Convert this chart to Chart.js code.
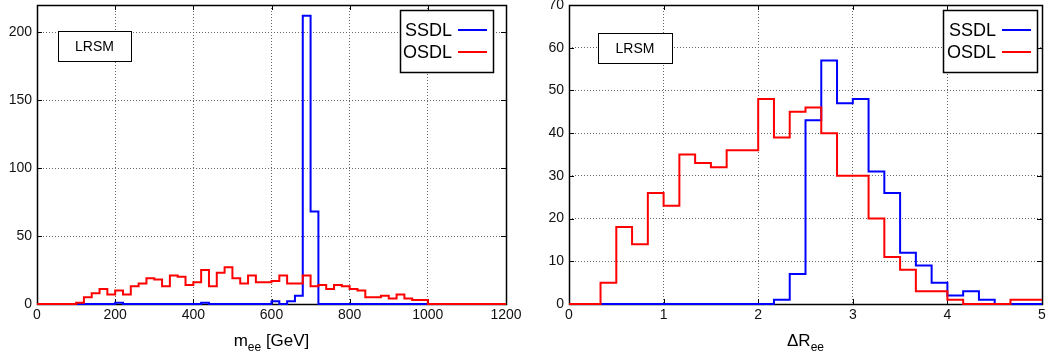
<!DOCTYPE html>
<html>
<head>
<meta charset="utf-8">
<script src="https://cdn.jsdelivr.net/npm/chart.js@4.4.0/dist/chart.umd.min.js"></script>
<style>
  body { margin: 0; background: #fff; }
  #wrap { width: 1054px; height: 360px; position: relative; }
  .box { position: absolute; top: 0; height: 360px; }
</style>
</head>
<body>
<div id="wrap">
  <div class="box" style="left:0;width:530px"><canvas id="massChart"></canvas></div>
  <div class="box" style="left:530px;width:524px"><canvas id="drChart"></canvas></div>
</div>
<script>
// series names
const seriesNames = ['SSDL', 'OSDL'];
const modelLabel = 'LRSM';

// m_ee histogram, 20 GeV bins from 0 to 1200
const massBinWidth = 20;
const ssdlMass = [0,0,0,0,0, 0,0,0,0,0, 1,0,0,0,0, 0,0,0,0,0, 0,1,0,0,0, 0,0,0,0,0,
                  2,0,2,6,212, 68,0,0,0,0, 0,0,0,0,0, 0,0,0,0,0, 0,0,0,0,0, 0,0,0,0,0];
const osdlMass = [0,0,0,0,0, 1,5,8,11,7, 10,7,13,15,19, 18,13,21,20,14, 16,25,13,23,27, 19,15,21,16,16,
                  17,21,15,15,21, 13,14,11,14,13, 11,10,5,5,6, 4,7,4,3,3, 0,0,0,0,0, 0,0,0,0,0];

// Delta R_ee histogram, bins of 1/6 from 0 to 5
const drBinWidth = 1 / 6;
const ssdlDR = [0,0,0,0,0,0, 0,0,0,0,0,0, 0,1,7,43,57,47, 48,31,26,12,9,5, 2,3,1,0,0,0];
const osdlDR = [0,0,5,18,14,26, 23,35,33,32,36,36, 48,39,45,46,40,30, 30,20,11,8,3,3, 1,0,0,0,1,1];

const colors = ['#0000ff', '#ff0000'];
const font = 'Liberation Sans, Arial, Helvetica, sans-serif';

// histogram edges -> stepped points (value held from left edge to next edge)
function steps(values, width) {
  const pts = values.map((v, i) => ({ x: i * width, y: v }));
  pts.push({ x: values.length * width, y: values[values.length - 1] });
  return pts;
}

const gnuplotLook = {
  id: 'gnuplotLook',
  beforeDatasetsDraw(chart) {
    const a = chart.chartArea, ctx = chart.ctx;
    const xs = chart.scales.x, ys = chart.scales.y;
    ctx.save();
    ctx.strokeStyle = '#000';
    ctx.lineWidth = 1;
    ctx.beginPath();
    xs.ticks.forEach(t => {
      const px = Math.round(xs.getPixelForValue(t.value)) + 0.5;
      ctx.moveTo(px, a.bottom); ctx.lineTo(px, a.bottom - 5);
      ctx.moveTo(px, a.top); ctx.lineTo(px, a.top + 5);
    });
    ys.ticks.forEach(t => {
      const py = Math.round(ys.getPixelForValue(t.value)) + 0.5;
      ctx.moveTo(a.left, py); ctx.lineTo(a.left + 5, py);
      ctx.moveTo(a.right, py); ctx.lineTo(a.right - 5, py);
    });
    ctx.stroke();
    ctx.lineWidth = 1.5;
    ctx.strokeRect(Math.round(a.left) + 0.5, Math.round(a.top) + 0.5,
                   Math.round(a.right - a.left), Math.round(a.bottom - a.top));
    ctx.restore();
  },
  afterDatasetsDraw(chart, args, o) {
    const ctx = chart.ctx;
    ctx.save();
    // model label box
    const m = o.modelBox;
    ctx.fillStyle = '#fff';
    ctx.fillRect(m[0], m[1], m[2] - m[0], m[3] - m[1]);
    ctx.strokeStyle = '#000';
    ctx.lineWidth = 1;
    ctx.strokeRect(m[0] + 0.5, m[1] + 0.5, m[2] - m[0], m[3] - m[1]);
    ctx.fillStyle = '#000';
    ctx.font = '14px ' + font;
    ctx.textAlign = 'center';
    ctx.textBaseline = 'middle';
    ctx.fillText(modelLabel, (m[0] + m[2]) / 2, (m[1] + m[3]) / 2 + 1);
    // key box
    const k = o.keyBox;
    ctx.fillStyle = '#fff';
    ctx.fillRect(k[0], k[1], k[2] - k[0], k[3] - k[1]);
    ctx.lineWidth = 1.5;
    ctx.strokeRect(k[0] + 0.5, k[1] + 0.5, k[2] - k[0], k[3] - k[1]);
    ctx.font = '18px ' + font;
    ctx.textAlign = 'right';
    chart.data.datasets.forEach((ds, i) => {
      const y = k[1] + 20 + i * 22;
      ctx.fillStyle = '#000';
      ctx.fillText(ds.label, k[2] - 41, y + 1);
      ctx.strokeStyle = ds.borderColor;
      ctx.lineWidth = 2;
      ctx.beginPath();
      ctx.moveTo(k[2] - 35, y); ctx.lineTo(k[2] - 6, y);
      ctx.stroke();
    });
    ctx.restore();
  },
  afterDraw(chart, args, o) {
    const ctx = chart.ctx, a = chart.chartArea;
    ctx.save();
    ctx.fillStyle = '#000';
    ctx.textBaseline = 'alphabetic';
    ctx.textAlign = 'left';
    const big = '17px ' + font, small = '12px ' + font;
    ctx.font = big; const w1 = ctx.measureText(o.title[0]).width;
    ctx.font = small; const w2 = ctx.measureText(o.title[1]).width;
    ctx.font = big; const w3 = ctx.measureText(o.title[2]).width;
    let x = (a.left + a.right) / 2 - (w1 + w2 + w3) / 2;
    const y = 346;
    ctx.font = big; ctx.fillText(o.title[0], x, y); x += w1;
    ctx.font = small; ctx.fillText(o.title[1], x, y + 5); x += w2;
    ctx.font = big; ctx.fillText(o.title[2], x, y);
    ctx.restore();
  }
};

function makeChart(id, ssdl, osdl, width, xMax, xStep, yMax, yStep, yAxisWidth, rightPad, plug) {
  const gridStyle = { color: '#666', lineWidth: 1, drawTicks: false };
  return new Chart(document.getElementById(id), {
    type: 'line',
    data: {
      datasets: [
        { label: seriesNames[0], data: steps(ssdl, width), borderColor: colors[0], order: 1 },
        { label: seriesNames[1], data: steps(osdl, width), borderColor: colors[1], order: 0 }
      ]
    },
    options: {
      responsive: true,
      maintainAspectRatio: false,
      animation: false,
      layout: { padding: { top: 5, right: rightPad, bottom: 0, left: 0 } },
      elements: {
        line: { borderWidth: 2, stepped: 'before', fill: false, tension: 0 },
        point: { radius: 0 }
      },
      datasets: { line: { clip: false } },
      plugins: { legend: { display: false }, tooltip: { enabled: false }, gnuplotLook: plug },
      scales: {
        x: {
          type: 'linear', min: 0, max: xMax,
          grid: gridStyle, border: { display: false, dash: [1, 2] },
          ticks: { stepSize: xStep, padding: 3, color: '#111', maxRotation: 0,
                   font: { family: font, size: 14 }, callback: v => String(v) },
          afterFit: s => { s.height = 56; s.paddingLeft = 0; s.paddingRight = 0; }
        },
        y: {
          min: 0, max: yMax,
          grid: gridStyle, border: { display: false, dash: [1, 2] },
          ticks: { stepSize: yStep, padding: 5, color: '#111',
                   font: { family: font, size: 14 }, callback: v => String(v) },
          afterBuildTicks: s => { s.ticks = s.ticks.filter(t => Math.abs(t.value / yStep - Math.round(t.value / yStep)) < 1e-6); },
          afterFit: s => { s.width = yAxisWidth; s.paddingTop = 0; s.paddingBottom = 0; }
        }
      }
    },
    plugins: [gnuplotLook]
  });
}

makeChart('massChart', ssdlMass, osdlMass, massBinWidth, 1200, 200, 220, 50, 37, 24, {
  modelBox: [58, 31, 131, 61], keyBox: [400, 10, 493, 72], title: ['m', 'ee', ' [GeV]']
});
makeChart('drChart', ssdlDR, osdlDR, drBinWidth, 5, 1, 70, 10, 39, 12, {
  modelBox: [68, 33, 142, 63], keyBox: [413, 10, 507, 72], title: ['\u0394R', 'ee', '']
});
</script>
</body>
</html>
